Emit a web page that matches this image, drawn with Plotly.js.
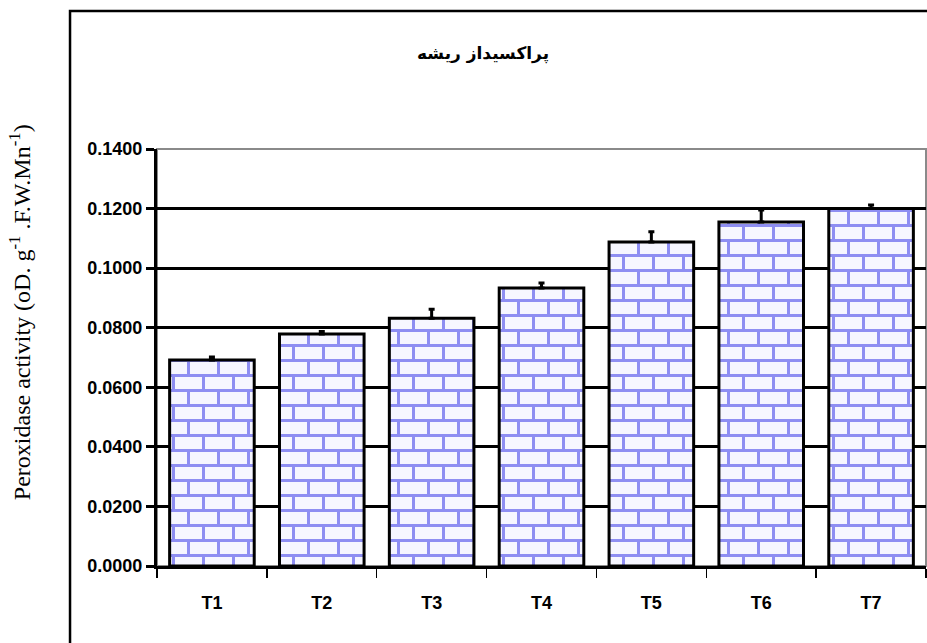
<!DOCTYPE html>
<html>
<head>
<meta charset="utf-8">
<script src="https://cdn.plot.ly/plotly-3.0.1.min.js"></script>
<style>
body{margin:0;background:#fff;}
#chart{width:927px;height:643px;}
</style>
</head>
<body>
<div id="chart"></div>
<script>
// Data
var categories = ["T1", "T2", "T3", "T4", "T5", "T6", "T7"];
var values = [0.0692, 0.0779, 0.0832, 0.0933, 0.1088, 0.1155, 0.1200];
var errors = [0.0010, 0.0008, 0.0030, 0.0017, 0.0034, 0.0040, 0.0012];
var yTickVals = [0, 0.02, 0.04, 0.06, 0.08, 0.10, 0.12, 0.14];
var gridVals = [0.02, 0.04, 0.06, 0.08, 0.10, 0.12];
var titleText = "پراکسیداز ریشه";
var yTitleText = "Peroxidase activity (oD. g<sup>-1</sup> .F.W.Mn<sup>-1</sup>)";

var tickFont = {family: "Liberation Sans, Arial, sans-serif", size: 18, color: "#000", weight: "bold"};

var trace = {
  type: "bar",
  x: categories,
  y: values,
  error_y: {type: "data", array: errors, visible: true, color: "#000", thickness: 3, width: 3, symmetric: false, arrayminus: errors.map(function(){return 0;})},
  marker: {color: "#f6f6ff", line: {color: "#000", width: 3}},
  hoverinfo: "skip"
};

var layout = {
  width: 927, height: 643,
  margin: {l: 157, r: 1, t: 149, b: 77},
  paper_bgcolor: "#fff", plot_bgcolor: "#fff",
  showlegend: false,
  bargap: 0.23,
  title: {text: titleText, font: {family: "DejaVu Sans, sans-serif", size: 17, color: "#000", weight: "bold"},
          xref: "paper", x: 0.424, xanchor: "center", yref: "container", y: 0.918, yanchor: "middle"},
  xaxis: {
    type: "category", showline: true, linecolor: "#000", linewidth: 3,
    ticks: "outside", tickson: "boundaries", ticklen: 9, tickwidth: 1.5, tickcolor: "#000",
    tickfont: tickFont, ticklabelstandoff: 18, showgrid: false, zeroline: false
  },
  yaxis: {
    range: [0, 0.14], tickvals: yTickVals, tickformat: ".4f",
    showline: true, linecolor: "#000", linewidth: 3,
    ticks: "outside", ticklen: 8, tickwidth: 3, tickcolor: "#000",
    tickfont: tickFont, showgrid: false, zeroline: false
  },
  yaxis2: {
    overlaying: "y", range: [0, 0.14], tickvals: gridVals, showticklabels: false, ticks: "",
    showgrid: true, gridcolor: "#000", gridwidth: 3, zeroline: false, showline: false
  },
  shapes: [
    {type: "rect", xref: "paper", yref: "paper", x0: 0, x1: 1, y0: 0, y1: 1, line: {color: "#8a8a8a", width: 2}, layer: "below"},
    {type: "rect", xref: "paper", yref: "paper", x0: -0.1131, x1: 1.05, y0: -0.25, y1: 1.331, line: {color: "#000", width: 2.5}, layer: "below"}
  ],
  annotations: [
    {text: yTitleText, xref: "paper", yref: "paper", x: -0.178, y: 0.609, xanchor: "center", yanchor: "middle",
     textangle: -90, showarrow: false, font: {family: "Liberation Serif, Times New Roman, serif", size: 24, color: "#000"}}
  ]
};

// invisible trace to register yaxis2 (grid only)
var gridTrace = {type: "scatter", x: [categories[0]], y: [0], yaxis: "y2", mode: "none", hoverinfo: "skip", showlegend: false};

Plotly.newPlot("chart", [gridTrace, trace], layout, {staticPlot: true}).then(function(gd){
  var svgNS = "http://www.w3.org/2000/svg";
  var svg = gd.querySelector("svg.main-svg");
  var defs = svg.querySelector("defs") || svg.insertBefore(document.createElementNS(svgNS, "defs"), svg.firstChild);
  var pat = document.createElementNS(svgNS, "pattern");
  pat.setAttribute("id", "brick");
  pat.setAttribute("patternUnits", "userSpaceOnUse");
  pat.setAttribute("width", "30");
  pat.setAttribute("height", "30");
  var mortar = "#8e8ef2";
  var parts = [
    ["rect", {x: 0, y: 0, width: 30, height: 30, fill: "#f6f6ff"}],
    ["rect", {x: 0, y: 0, width: 30, height: 3, fill: mortar}],
    ["rect", {x: 0, y: 15, width: 30, height: 3, fill: mortar}],
    ["rect", {x: 0, y: 0, width: 3, height: 15, fill: mortar}],
    ["rect", {x: 15, y: 15, width: 3, height: 15, fill: mortar}]
  ];
  parts.forEach(function(p){
    var el = document.createElementNS(svgNS, p[0]);
    for (var k in p[1]) el.setAttribute(k, p[1][k]);
    pat.appendChild(el);
  });
  defs.appendChild(pat);
  gd.querySelectorAll(".bars .point path").forEach(function(path){
    path.style.fill = "url(#brick)";
  });
});
</script>
</body>
</html>
